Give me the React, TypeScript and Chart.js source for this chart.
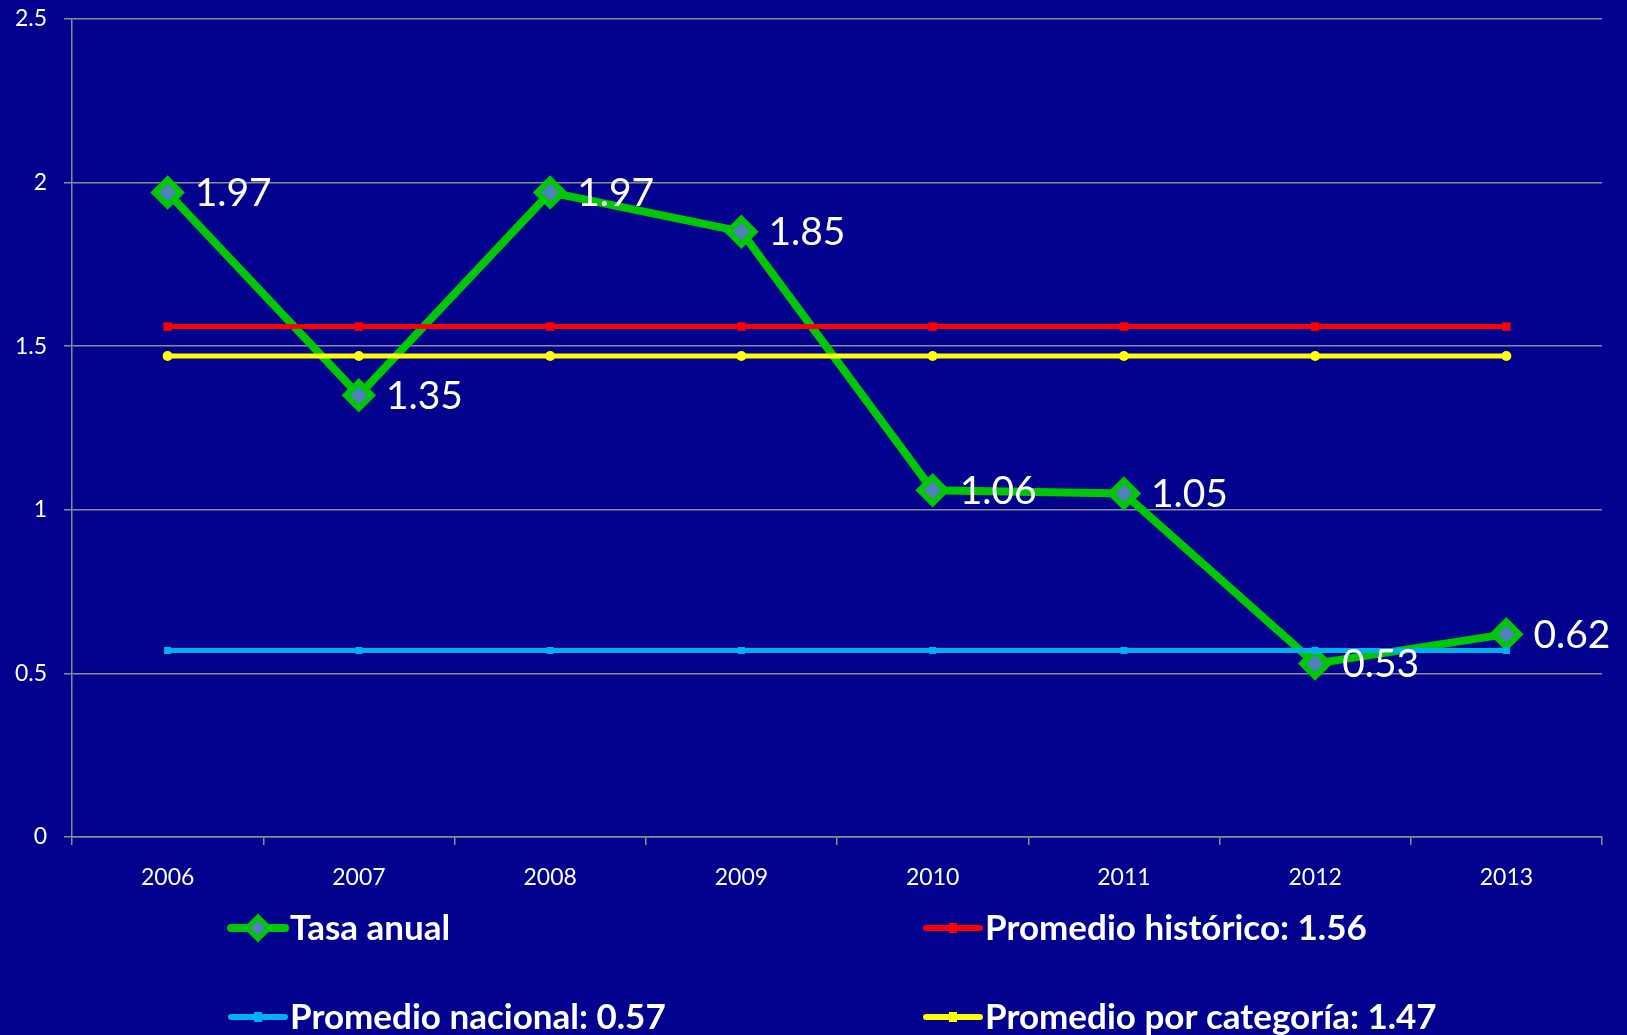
import React, { useEffect, useRef } from 'react';
import { Chart, registerables } from 'chart.js';

Chart.register(...registerables);

const years = ['2006', '2007', '2008', '2009', '2010', '2011', '2012', '2013'];
const tasaAnual = [1.97, 1.35, 1.97, 1.85, 1.06, 1.05, 0.53, 0.62];
const promedioHistorico = [1.56, 1.56, 1.56, 1.56, 1.56, 1.56, 1.56, 1.56];
const promedioNacional = [0.57, 0.57, 0.57, 0.57, 0.57, 0.57, 0.57, 0.57];
const promedioCategoria = [1.47, 1.47, 1.47, 1.47, 1.47, 1.47, 1.47, 1.47];
const seriesLabels = [
  'Tasa anual',
  'Promedio histórico: 1.56',
  'Promedio nacional: 0.57',
  'Promedio por categoría: 1.47',
];
const yMin = 0;
const yMax = 2.5;
const yStep = 0.5;

const BG = '#02028F';
const FONT = 'Lato, "Open Sans", sans-serif';
const GREEN = '#00C800';
const MARKER_FILL = '#4F81BD';
const RED = '#FF0000';
const CYAN = '#00B0F0';
const YELLOW = '#FFFF00';

const bgPlugin = {
  id: 'bgFill',
  beforeDraw(chart: any) {
    const ctx = chart.ctx;
    ctx.save();
    ctx.fillStyle = BG;
    ctx.fillRect(0, 0, chart.width, chart.height);
    ctx.restore();
  },
};

const dataLabelPlugin = {
  id: 'dataLabels',
  afterDatasetsDraw(chart: any) {
    const ctx = chart.ctx;
    const meta = chart.getDatasetMeta(0);
    const data = chart.data.datasets[0].data;
    ctx.save();
    ctx.fillStyle = '#FFFFFF';
    ctx.font = `39px ${FONT}`;
    ctx.textAlign = 'left';
    ctx.textBaseline = 'middle';
    meta.data.forEach((pt: any, i: number) => {
      ctx.fillText(Number(data[i]).toFixed(2), pt.x + 27, pt.y + 1);
    });
    ctx.restore();
  },
};

const legendPlugin = {
  id: 'customLegend',
  afterDraw(chart: any) {
    const ctx = chart.ctx;
    const slots = [
      { ds: 0, x: 229, y: 928 },
      { ds: 1, x: 924, y: 928 },
      { ds: 2, x: 229, y: 1017 },
      { ds: 3, x: 924, y: 1017 },
    ];
    ctx.save();
    slots.forEach((s) => {
      const dsObj = chart.data.datasets[s.ds];
      const lineLen = 56;
      ctx.strokeStyle = dsObj.borderColor;
      ctx.lineWidth = s.ds === 0 ? 8 : 6;
      ctx.lineCap = 'round';
      ctx.beginPath();
      ctx.moveTo(s.x + 2, s.y);
      ctx.lineTo(s.x + lineLen, s.y);
      ctx.stroke();
      const cx = s.x + lineLen / 2 + 1;
      if (s.ds === 0) {
        ctx.beginPath();
        const r = 11;
        ctx.moveTo(cx, s.y - r);
        ctx.lineTo(cx + r, s.y);
        ctx.lineTo(cx, s.y + r);
        ctx.lineTo(cx - r, s.y);
        ctx.closePath();
        ctx.fillStyle = MARKER_FILL;
        ctx.fill();
        ctx.lineWidth = 5;
        ctx.strokeStyle = GREEN;
        ctx.stroke();
      } else {
        ctx.fillStyle = dsObj.borderColor;
        ctx.fillRect(cx - 4, s.y - 5, 8, 10);
      }
      ctx.fillStyle = '#FFFFFF';
      ctx.font = `bold 35px ${FONT}`;
      ctx.textAlign = 'left';
      ctx.textBaseline = 'middle';
      ctx.fillText(dsObj.label, s.x + lineLen + 5, s.y + 1);
    });
    ctx.restore();
  },
};

export default function App() {
  const canvasRef = useRef<HTMLCanvasElement | null>(null);

  useEffect(() => {
    if (!canvasRef.current) return;
    const chart = new Chart(canvasRef.current, {
      type: 'line',
      data: {
        labels: years,
        datasets: [
          {
            label: seriesLabels[0],
            data: tasaAnual,
            borderColor: GREEN,
            backgroundColor: MARKER_FILL,
            borderWidth: 8,
            pointStyle: 'rectRot',
            pointRadius: 13,
            pointBorderWidth: 6,
            pointBorderColor: GREEN,
            pointBackgroundColor: MARKER_FILL,
            tension: 0,
            order: 1,
          },
          {
            label: seriesLabels[1],
            data: promedioHistorico,
            borderColor: RED,
            backgroundColor: RED,
            borderWidth: 5,
            pointStyle: 'rect',
            pointRadius: 6,
            pointBorderWidth: 0,
            pointBackgroundColor: RED,
            order: 0,
          },
          {
            label: seriesLabels[2],
            data: promedioNacional,
            borderColor: CYAN,
            backgroundColor: CYAN,
            borderWidth: 5,
            pointStyle: 'rect',
            pointRadius: 5,
            pointBorderWidth: 0,
            pointBackgroundColor: CYAN,
            order: 0,
          },
          {
            label: seriesLabels[3],
            data: promedioCategoria,
            borderColor: YELLOW,
            backgroundColor: YELLOW,
            borderWidth: 5,
            pointStyle: 'circle',
            pointRadius: 5,
            pointBorderWidth: 0,
            pointBackgroundColor: YELLOW,
            order: 0,
          },
        ],
      },
      options: {
        responsive: false,
        animation: false,
        devicePixelRatio: 1,
        layout: { padding: { top: 19, right: 25, bottom: 0, left: 0 } },
        plugins: {
          legend: { display: false },
          tooltip: { enabled: false },
        },
        scales: {
          x: {
            offset: true,
            afterFit: (scale: any) => {
              scale.height = 198;
              scale.paddingTop = 0;
              scale.paddingBottom = 0;
              scale.paddingLeft = 0;
              scale.paddingRight = 0;
            },
            grid: {
              offset: true,
              drawOnChartArea: false,
              drawTicks: true,
              tickLength: 8,
              color: '#8C8C8C',
              lineWidth: 1.5,
            },
            border: { color: '#8C8C8C', width: 1.5 },
            ticks: {
              color: '#FFFFFF',
              font: { family: FONT, size: 23 },
              padding: 19,
              maxRotation: 0,
            },
          },
          y: {
            min: yMin,
            max: yMax,
            afterFit: (scale: any) => {
              scale.width = 72;
              scale.paddingTop = 0;
              scale.paddingBottom = 0;
              scale.paddingLeft = 0;
              scale.paddingRight = 0;
            },
            grid: {
              color: '#8C8C8C',
              lineWidth: 1.5,
              drawTicks: true,
              tickLength: 8,
            },
            border: { color: '#8C8C8C', width: 1.5 },
            ticks: {
              stepSize: yStep,
              color: '#FFFFFF',
              font: { family: FONT, size: 23 },
              padding: 17,
              callback: (v: any) => String(Number(v)),
            },
          },
        },
      },
      plugins: [bgPlugin, dataLabelPlugin, legendPlugin],
    } as any);
    return () => chart.destroy();
  }, []);

  return (
    <div
      style={{
        position: 'fixed',
        left: 0,
        top: 0,
        width: 1627,
        height: 1035,
        background: BG,
      }}
    >
      <canvas ref={canvasRef} width={1627} height={1035} style={{ display: 'block' }} />
    </div>
  );
}
